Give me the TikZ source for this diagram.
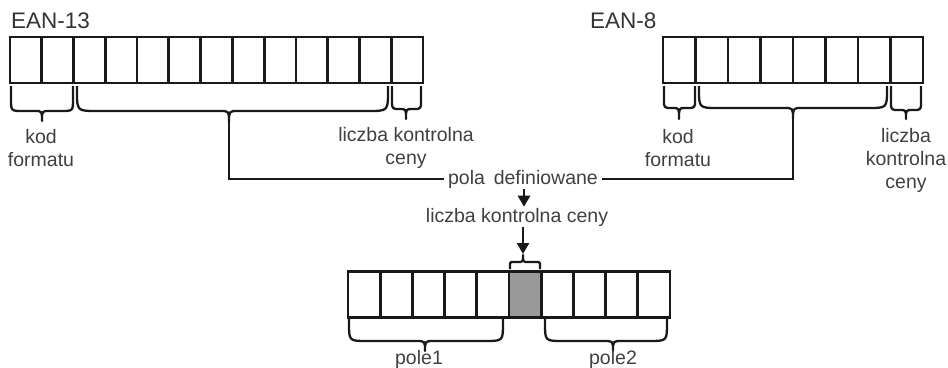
\documentclass[tikz,border=0pt]{standalone}
\usepackage{fontspec}
\setmainfont{Liberation Sans}
\usetikzlibrary{arrows.meta}
% x1 x2 y0 yh xm yt r rt
\newcommand\ebrace[8]{\draw[bracel] (#1,#3) -- (#1,{#4-#7}) .. controls (#1,#4) .. ({#1+#7},#4) -- ({#5-#8},#4) .. controls (#5,#4) .. (#5,#6) .. controls (#5,#4) .. ({#5+#8},#4) -- ({#2-#7},#4) .. controls (#2,#4) .. (#2,{#4-#7}) -- (#2,#3);}
\tikzset{
  cell/.style={draw=black!90, line width=2.8pt, minimum height=46pt, inner sep=0pt, outer sep=0pt},
  shaded/.style={fill=black!40, minimum height=46pt, inner sep=0pt, outer sep=0pt},
  bracel/.style={draw=black!90, line width=2.3pt, line join=round},
  conn/.style={draw=black!90, line width=2.7pt},
  arr/.style={draw=black!90, line width=2.6pt, -{Triangle[length=11pt,width=12pt]}},
  lbl/.style={font=\fontsize{19.5}{23}\selectfont, text=black!75, inner sep=1pt, align=center},
  title/.style={font=\fontsize{22.5}{24}\selectfont, text=black!80, inner sep=0pt, anchor=west},
}
\begin{document}
\begin{tikzpicture}[x=1pt,y=-1pt]
\useasboundingbox (0,0) rectangle (948,367);
% titles
\node[title] (t13) at (11,21) {EAN-13};
\node[title] (t8) at (590,21) {EAN-8};
% shaded cell fill (drawn first)
\node[shaded, minimum width=32.2pt] (c5s) at ({348+32.2*5.5},294.5) {};
% EAN-13 cells
\foreach \i in {0,...,12}
  \node[cell, minimum width=31.77pt] (a\i) at ({10+31.77*(\i+0.5)},60) {};
% EAN-8 cells
\foreach \i in {0,...,7}
  \node[cell, minimum width=32.5pt] (b\i) at ({663+32.5*(\i+0.5)},60) {};
% bottom cells
\foreach \i in {0,...,9}
  \node[cell, minimum width=32.2pt] (c\i) at ({348+32.2*(\i+0.5)},294.5) {};
% braces EAN-13
\ebrace{11}{73}{86}{111}{42}{121}{12}{7}
\ebrace{77}{388}{86}{111}{229}{122}{20}{9}
\ebrace{392}{421}{86}{109}{406}{119}{8}{6}
% braces EAN-8
\ebrace{664}{695}{86}{108}{679}{119}{8}{6}
\ebrace{699}{887}{86}{108}{793}{119}{19}{9}
\ebrace{891}{921}{86}{110}{906}{119}{8}{6}
% braces bottom
\ebrace{349}{503}{319}{341}{425}{351}{18}{9}
\ebrace{545}{667}{319}{341}{613}{351}{18}{9}
% small brace above shaded cell
\draw[bracel] (510,269) -- (510,266) .. controls (510,262) .. (514,262) -- (518,262) .. controls (523,262) .. (523,255) .. controls (523,262) .. (528,262) -- (536,262) .. controls (540,262) .. (540,266) -- (540,269);
% tips
\coordinate (tip13) at (229,122);
\coordinate (tip8) at (793,119);
\coordinate (tipb) at (523,254);
\coordinate (ax) at (524,0);
% labels
\node[lbl] (kod13) at (41,148) {kod\\formatu};
\node[lbl] (lk13) at (406,148) {liczba kontrolna\\ceny};
\node[lbl] (kod8) at (678,148) {kod\\formatu};
\node[lbl] (lk8) at (906,160) {liczba\\kontrolna\\ceny};
\node[lbl] (pola) at (523,179) {pola\hspace{0.45em}definiowane};
\node[lbl] (lkc) at (517,217) {liczba kontrolna ceny};
\node[lbl] (p1) at (419,359) {pole1};
\node[lbl] (p2) at (613,359) {pole2};
% connectors
\draw[conn] (tip13) -- (tip13 |- pola.west) -- ([xshift=-3pt]pola.west);
\draw[conn] ([xshift=3pt]pola.east) -- (pola.east -| tip8) -- (tip8);
\draw[arr] (pola.south -| ax) -- (lkc.north -| ax);
\draw[arr] (lkc.south -| tipb) -- (tipb);
\end{tikzpicture}
\end{document}
